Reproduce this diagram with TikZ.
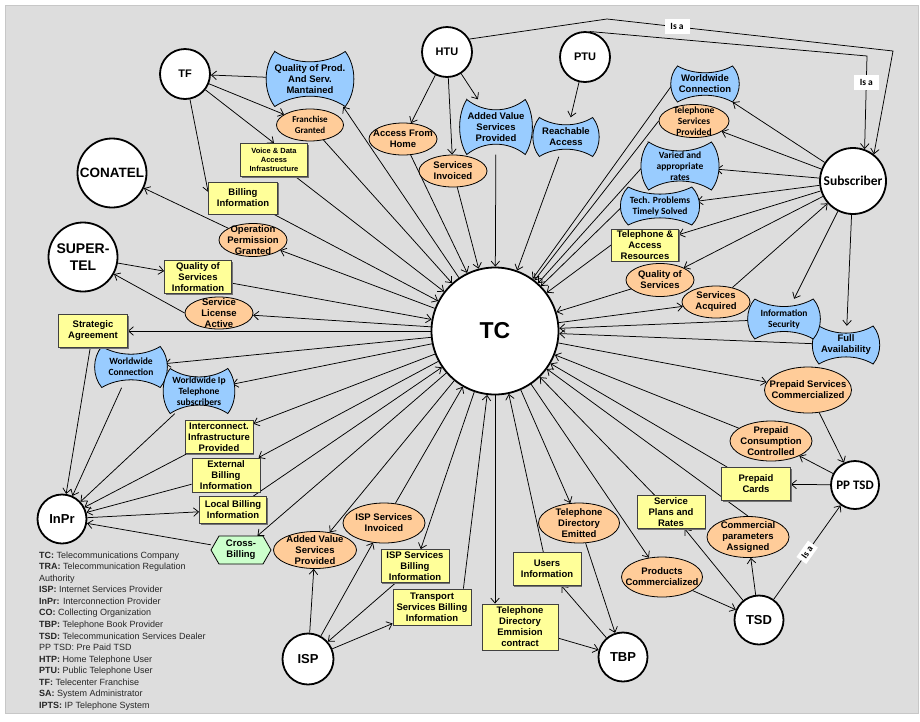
\documentclass[tikz,border=0pt]{standalone}
\usepackage{fontspec}
\setmainfont{Liberation Sans}
\newfontfamily\carl{Carlito}
\usetikzlibrary{shapes.geometric,arrows.meta,shadows,calc}

\definecolor{panelgray}{HTML}{DDDDDD}
\definecolor{waveblue}{HTML}{99CCFF}
\definecolor{peach}{HTML}{FFCC99}
\definecolor{paleyellow}{HTML}{FFFF99}
\definecolor{mint}{HTML}{CCFFCC}

\pgfdeclarelayer{bglayer}
\pgfdeclarelayer{edges}
\pgfdeclarelayer{shapes}
\pgfsetlayers{bglayer,edges,shapes,main}

\tikzset{
  txt/.style={font=\bfseries\fontsize{9.5}{11}\selectfont, align=center},
  carltxt/.style={font=\carl\bfseries\fontsize{9.5}{11}\selectfont},
  sz/.style 2 args={minimum width=#1pt, minimum height=#2pt},
  circ/.style={circle, draw, line width=1.8pt, fill=white, inner sep=0pt, minimum size=#1pt, align=center},
  box/.style={rectangle, draw=black!75, line width=0.8pt, fill=paleyellow, inner sep=0pt, txt,
    drop shadow={shadow xshift=1.3pt, shadow yshift=-1.3pt, fill=black!55, opacity=1}},
  ell/.style={ellipse, draw, line width=0.8pt, fill=peach, inner xsep=-45pt, inner ysep=-30pt, txt},
  wavetext/.style={rectangle, inner sep=0pt, txt},
  waveshape/.style={fill=waveblue, draw, line width=0.8pt},
  hexshape/.style={fill=mint, draw, line width=0.8pt},
  edge/.style={line width=0.75pt, -{Straight Barb[length=5pt,width=8.5pt]}},
  isa/.style={fill=white, inner sep=0pt, minimum width=25pt, minimum height=15pt, font=\carl\bfseries\fontsize{9.5}{11}\selectfont},
}

% wavy (pinched) flag shape with a named text node on top
% [text style] name, x, y, width, height, text
\newcommand\wavenode[7][]{%
  \begin{pgfonlayer}{shapes}
    \path[waveshape, shift={(#3,#4)}, xscale={#5/2}, yscale={#6/2}]
      (-0.86,-1) .. controls (-0.35,-0.5) and (0.35,-0.5) .. (0.86,-1)
      .. controls (1.14,-0.45) and (1.14,0.45) .. (0.86,1)
      .. controls (0.35,0.5) and (-0.35,0.5) .. (-0.86,1)
      .. controls (-1.14,0.45) and (-1.14,-0.45) .. cycle;
  \end{pgfonlayer}
  \node[wavetext, sz={#5}{#6}, #1] (#2) at (#3,#4) {#7};}

\begin{document}
\begin{tikzpicture}[x=1pt, y=-1pt]
\useasboundingbox (0,0) rectangle (920,721);
\begin{pgfonlayer}{bglayer}
  \path[fill=white] (0,0) rectangle (920,721);
  \path[fill=panelgray, draw=black!22, line width=0.8pt] (5,5) rectangle (918,713);
\end{pgfonlayer}

% ---- actors ----
\node[circ=50, font=\bfseries\fontsize{11}{13}\selectfont] (tf) at (185,74) {TF};
\node[circ=50, font=\bfseries\fontsize{11}{13}\selectfont] (htu) at (447,52) {HTU};
\node[circ=50, font=\bfseries\fontsize{11}{13}\selectfont] (ptu) at (585,57) {PTU};
\node[circ=69, font=\bfseries\fontsize{13.5}{16}\selectfont] (conatel) at (112,173) {CONATEL};
\node[circ=69, font=\bfseries\fontsize{14}{16.5}\selectfont] (super) at (83,257) {SUPER-\\TEL};
\node[circ=127, font=\bfseries\fontsize{23}{26}\selectfont] (tc) at (495,331) {TC};
\node[circ=66, font=\carl\bfseries\fontsize{13.5}{15}\selectfont] (sub) at (853,181) {Subscriber};
\node[circ=49, font=\bfseries\fontsize{13}{15}\selectfont] (inpr) at (62,519) {InPr};
\node[circ=51, font=\bfseries\fontsize{13}{15}\selectfont] (isp) at (308,659) {ISP};
\node[circ=49, font=\bfseries\fontsize{13}{15}\selectfont] (tbp) at (623,657) {TBP};
\node[circ=49, font=\bfseries\fontsize{13}{15}\selectfont] (tsd) at (759,620) {TSD};
\node[circ=48, font=\carl\bfseries\fontsize{13}{15}\selectfont] (pptsd) at (855,485) {PP TSD};

% ---- flags ----
\wavenode{qpsm}{310}{79}{82}{55}{Quality of Prod.\\And Serv.\\Mantained}
\wavenode[carltxt]{wwcl}{131}{367}{68}{41}{Worldwide\\Connection}
\wavenode[carltxt]{wip}{199}{391}{67}{45}{Worldwide Ip\\Telephone\\subscribers}
\wavenode{fa}{846}{345}{63}{38}{Full\\Availability}
\wavenode[carltxt]{is}{784}{319}{68}{40}{Information\\Security}
\wavenode[carltxt]{tpts}{660}{206}{74}{38}{Tech. Problems\\Timely Solved}
\wavenode[carltxt]{var}{680}{166}{73}{48}{Varied and\\appropriate\\rates}
\wavenode{wwcr}{705}{84}{64}{36}{Worldwide\\Connection}
\wavenode{ra}{566}{137}{62}{39}{Reachable\\Access}
\wavenode{avspt}{496}{127}{68}{55}{Added Value\\Services\\Provided}

% ---- states ----
\node[ell, sz={67}{32}, font=\carl\bfseries\fontsize{9}{11}\selectfont] (fg) at (310,125) {Franchise\\Granted};
\node[ell, sz={68}{33}] (opg) at (253,240) {Operation\\Permission\\Granted};
\node[ell, sz={68}{32}] (sla) at (219,313) {Service\\License\\Active};
\node[ell, sz={83}{37}] (avspb) at (315,550) {Added Value\\Services\\Provided};
\node[ell, sz={82}{40}] (isi) at (384,523) {ISP Services\\Invoiced};
\node[ell, sz={81}{40}] (tde) at (579,523) {Telephone\\Directory\\Emitted};
\node[ell, sz={81}{40}] (pcom) at (662,577) {Products\\Commercialized};
\node[ell, sz={82}{41}] (cpa) at (748,537) {Commercial\\parameters\\Assigned};
\node[ell, sz={82}{40}] (pcc) at (771,441) {Prepaid\\Consumption\\Controlled};
\node[ell, sz={87}{46}] (psc) at (808,390) {Prepaid Services\\Commercialized};
\node[ell, sz={68}{32}] (sacq) at (716,302) {Services\\Acquired};
\node[ell, sz={68}{33}] (qos) at (660,280) {Quality of\\Services};
\node[ell, sz={70}{33}, carltxt] (tsp) at (694,121) {Telephone\\Services\\Provided};
\node[ell, sz={68}{32}] (si) at (453,171) {Services\\Invoiced};
\node[ell, sz={68}{32}] (afh) at (403,139) {Access From\\Home};

% ---- information items ----
\node[box, sz={67}{33}, font=\bfseries\fontsize{7.5}{9}\selectfont] (vda) at (274,160) {Voice \& Data\\Access\\Infrastructure};
\node[box, sz={69}{32}] (bi) at (243,198) {Billing\\Information};
\node[box, sz={67}{33}] (qsi) at (198,277) {Quality of\\Services\\Information};
\node[box, sz={69}{33}] (sagr) at (93,331) {Strategic\\Agreement};
\node[box, sz={68}{33}] (iip) at (219,437) {Interconnect.\\Infrastructure\\Provided};
\node[box, sz={68}{34}] (ebi) at (226,475) {External\\Billing\\Information};
\node[box, sz={67}{27}] (lbi) at (233,510) {Local Billing\\Information};
\node[box, sz={68}{33}] (isbi) at (415,566) {ISP Services\\Billing\\Information};
\node[box, sz={78}{36}] (tsbi) at (432,607) {Transport\\Services Billing\\Information};
\node[box, sz={76}{46}] (tdec) at (520,627) {Telephone\\Directory\\Emmision\\contract};
\node[box, sz={68}{33}] (ui) at (547,569) {Users\\Information};
\node[box, sz={68}{33}] (spr) at (671,512) {Service\\Plans and\\Rates};
\node[box, sz={69}{33}] (pcards) at (756,484) {Prepaid\\Cards};
\node[box, sz={67}{32}] (tar) at (645,245) {Telephone \&\\Access\\Resources};

% ---- cross-billing hexagon ----
\begin{pgfonlayer}{shapes}
  \path[hexshape] (211,550) -- (219,536) -- (263,536) -- (271,550) -- (263,564) -- (219,564) -- cycle;
\end{pgfonlayer}
\node[wavetext, sz={60}{28}] (cb) at (241,550) {Cross-\\Billing};

% ---- abbreviations ----
\node[anchor=north west, inner sep=0pt, align=left, text=black!85,
      font=\fontsize{9}{11.54}\selectfont] (legend) at (39,551.5)
 {\textbf{TC:} Telecommunications Company\\
  \textbf{TRA:} Telecommunication Regulation\\
  Authority\\
  \textbf{ISP:} Internet Services Provider\\
  \textbf{InPr:} Interconnection Provider\\
  \textbf{CO:} Collecting Organization\\
  \textbf{TBP:} Telephone Book Provider\\
  \textbf{TSD:} Telecommunication Services Dealer\\
  PP TSD: Pre Paid TSD\\
  \textbf{HTP:} Home Telephone User\\
  \textbf{PTU:} Public Telephone User\\
  \textbf{TF:} Telecenter Franchise\\
  \textbf{SA:} System Administrator\\
  \textbf{IPTS:} IP Telephone System};

% ---- connectors ----
\begin{pgfonlayer}{edges}
\foreach \src/\dst in {qpsm/tf, tf/fg, tf/vda.north, tf/bi.170, fg/tc, vda/tc, bi/tc,
   tc/opg, opg/conatel, super/qsi, qsi/tc, tc/sla, sla.west/super, tc/sagr, sagr/inpr,
   tc/wwcl, wwcl/inpr, tc/wip, wip/inpr, tc/iip, iip/inpr, tc/ebi, ebi/inpr, inpr/lbi,
   lbi/tc, tc/cb, cb/inpr, tc/avspb, isp/avspb, isp/isi, isi/tc, tc/isbi, isbi/isp,
   isp/tsbi, tdec/tbp, ui/tc, tbp/ui, tc/tde, tde/tbp, tc/pcom, pcom/tsd, tsd/spr,
   spr/tc, tsd/cpa, cpa.north/tc, pptsd/pcards, pcards/tc, pptsd/pcc, pcc/tc, tc/psc,
   psc/pptsd, fa/tc, sub/fa, is/tc, sub/is, tc/sacq, sacq/sub, sub/qos, qos/tc,
   sub/tar, tar.west/tc, sub/tpts, tpts.west/tc, sub/var, var.west/tc, sub/tsp,
   tsp.west/tc, sub/wwcr, wwcr.west/tc, htu/afh, afh/tc, htu/si, si/tc, htu/avspt,
   avspt/tc, ptu/ra, ra/tc}
  \draw[edge] (\src) -- (\dst);
\draw[edge] (tc) -- ([xshift=-8pt]qpsm.south east);
\draw[edge] (tc) -- ([xshift=-25pt]tdec.north);
\draw[edge] ([xshift=-8pt]tsbi.north east) -- (tc);

% generalisation links
\coordinate (hbend) at (607,19);
\coordinate (hcorner) at (893,51);
\coordinate (pcorner) at (867,56);
\draw[edge] (htu.30) -- (hbend) -- node[isa, pos=0.245] (isa1) {Is a} (hcorner) -- (sub.52);
\draw[edge] (ptu.80) -- (pcorner) -- node[isa, pos=0.28] (isa2) {Is a} (sub.70);
\draw[edge] (tsd) -- node[isa, sloped, pos=0.5, minimum width=20pt, minimum height=12pt] (isa3) {Is a} (pptsd);
\end{pgfonlayer}
\end{tikzpicture}
\end{document}
